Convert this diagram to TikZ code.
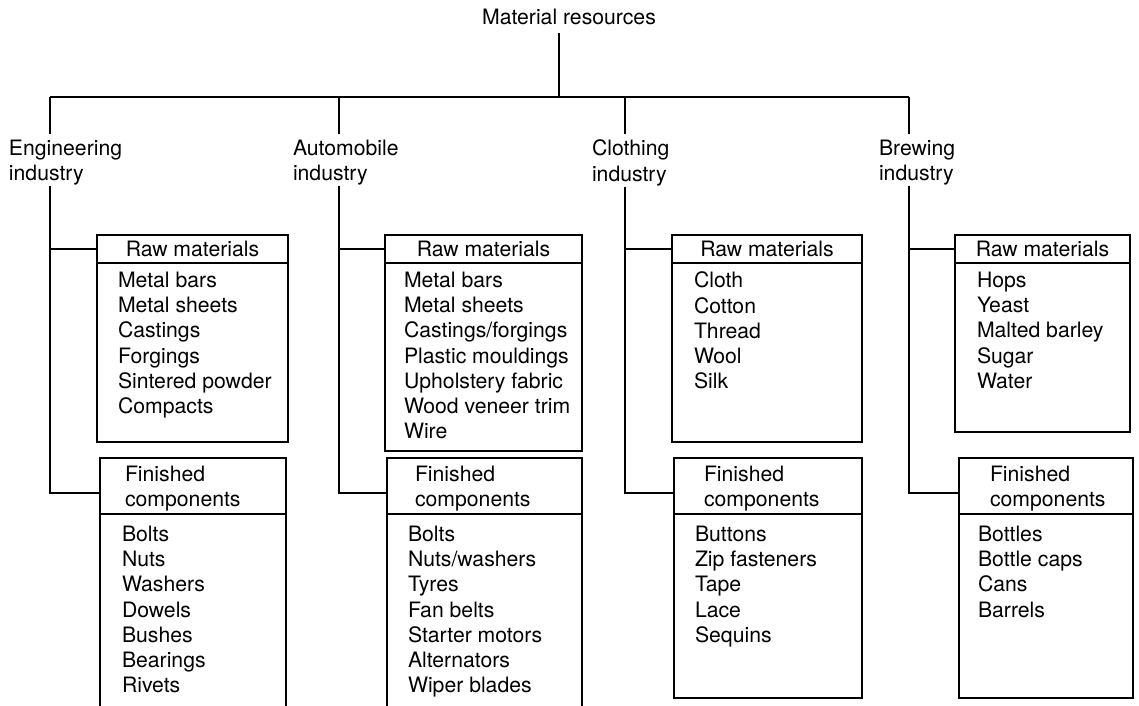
\documentclass[tikz,border=0pt]{standalone}
\usepackage{fontspec}
\setmainfont{TeX Gyre Heros}
\usepackage{tikz}
\usetikzlibrary{positioning,calc}
\tikzset{
	lbl/.style={inner sep=0pt, outer sep=0pt, align=left, anchor=north west},
	hdr/.style={draw, line width=1.1pt, inner sep=0pt, outer sep=0pt, anchor=north west},
	bdy/.style={hdr},
	lst/.style={lbl},
	wire/.style={line width=1.1pt},
}

\begin{document}
\begin{tikzpicture}[x=1pt, y=-1pt, font=\fontsize{21.2}{25.2}\selectfont]
				\useasboundingbox (0,0) rectangle (1139,705);
				\node[lbl, anchor=center] at (569,17) (title) {Material resources};
				\coordinate (hub) at (559,97);
				% engineering
				\coordinate (engX) at (50,97);
				\node[lbl] at (9,140) (eng) {Engineering\\industry};
				\node[hdr, minimum width=191pt, minimum height=28pt] at (97,235) (engrh) {Raw materials};
				\node[bdy, minimum width=191pt, minimum height=179pt] at (engrh.south west) (engrb) {};
				\node[lst] at (118,272) (engrl) {Metal bars\\Metal sheets\\Castings\\Forgings\\Sintered powder\\Compacts};
				\node[hdr, minimum width=186pt, minimum height=56pt] at (100,458) (engfh) {};
				\node[lst] at (125,466) (engft) {Finished\\components};
				\node[bdy, minimum width=186pt, minimum height=198pt] at (engfh.south west) (engfb) {};
				\node[lst] at (122,526) (engfl) {Bolts\\Nuts\\Washers\\Dowels\\Bushes\\Bearings\\Rivets};
				% automobile
				\coordinate (autoX) at (339,97);
				\node[lbl] at (293,140) (auto) {Automobile\\industry};
				\node[hdr, minimum width=197pt, minimum height=28pt] at (385,235) (autorh) {Raw materials};
				\node[bdy, minimum width=197pt, minimum height=188pt] at (autorh.south west) (autorb) {};
				\node[lst] at (404,272) (autorl) {Metal bars\\Metal sheets\\Castings/forgings\\Plastic mouldings\\Upholstery fabric\\Wood veneer trim\\Wire};
				\node[hdr, minimum width=195pt, minimum height=56pt] at (387,458) (autofh) {};
				\node[lst] at (415,466) (autoft) {Finished\\components};
				\node[bdy, minimum width=195pt, minimum height=198pt] at (autofh.south west) (autofb) {};
				\node[lst] at (408,526) (autofl) {Bolts\\Nuts/washers\\Tyres\\Fan belts\\Starter motors\\Alternators\\Wiper blades};
				% clothing
				\coordinate (clothX) at (625,97);
				\node[lbl] at (592,140) (cloth) {Clothing\\industry};
				\node[hdr, minimum width=190pt, minimum height=28pt] at (672,235) (clothrh) {Raw materials};
				\node[bdy, minimum width=190pt, minimum height=179pt] at (clothrh.south west) (clothrb) {};
				\node[lst] at (694,272) (clothrl) {Cloth\\Cotton\\Thread\\Wool\\Silk};
				\node[hdr, minimum width=188pt, minimum height=56pt] at (674,458) (clothfh) {};
				\node[lst] at (704,466) (clothft) {Finished\\components};
				\node[bdy, minimum width=188pt, minimum height=184pt] at (clothfh.south west) (clothfb) {};
				\node[lst] at (695,526) (clothfl) {Buttons\\Zip fasteners\\Tape\\Lace\\Sequins};
				% brewing
				\coordinate (brewX) at (909,97);
				\node[lbl] at (879,140) (brew) {Brewing\\industry};
				\node[hdr, minimum width=175pt, minimum height=28pt] at (955,235) (brewrh) {Raw materials};
				\node[bdy, minimum width=175pt, minimum height=169pt] at (brewrh.south west) (brewrb) {};
				\node[lst] at (977,272) (brewrl) {Hops\\Yeast\\Malted barley\\Sugar\\Water};
				\node[hdr, minimum width=174pt, minimum height=56pt] at (959,458) (brewfh) {};
				\node[lst] at (990,466) (brewft) {Finished\\components};
				\node[bdy, minimum width=174pt, minimum height=184pt] at (brewfh.south west) (brewfb) {};
				\node[lst] at (978,526) (brewfl) {Bottles\\Bottle caps\\Cans\\Barrels};
				% connectors
				\draw[wire, shorten >=8pt] (hub) -- (hub |- title.south);
				\draw[wire] (engX) -- (brewX);
				\foreach \ind in {eng,auto,cloth,brew} {
					\draw[wire, shorten >=6pt] (\ind X) -- (\ind X |- \ind.north);
					\draw[wire, shorten <=1pt] (\ind X |- \ind.south) |- ([yshift=-7pt]\ind fh.west);
					\draw[wire] (\ind X |- \ind rh.west) -- (\ind rh.west);
				}
			\end{tikzpicture}
\end{document}
